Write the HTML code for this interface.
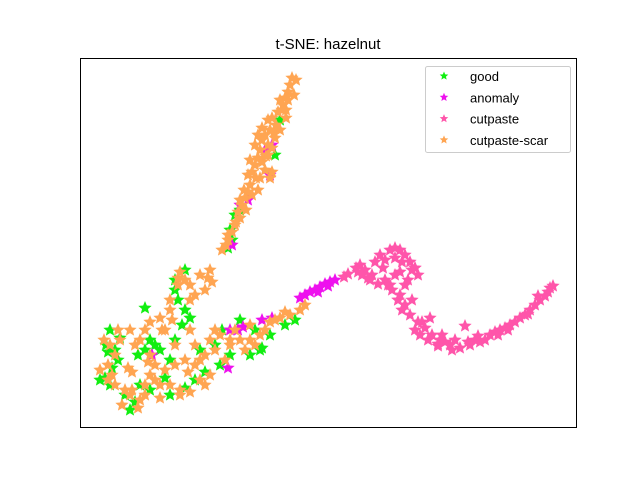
<!DOCTYPE html>
<html><head><meta charset="utf-8"><style>
body{margin:0;background:#fff;}
svg{display:block;font-family:"Liberation Sans","DejaVu Sans",sans-serif;}
</style></head><body>
<svg id="chart" width="640" height="480">
<rect x="0" y="0" width="640" height="480" fill="#fff"/>
<text x="328" y="49" text-anchor="middle" font-size="15" fill="#000">t-SNE: hazelnut</text>
<g id="marks"></g>
<rect x="80.5" y="58.5" width="496" height="369" fill="none" stroke="#000" stroke-width="1"/>
<g id="legend"></g>
</svg>
<script>
// t-SNE embedding coordinates (arbitrary units, y increases downward)
const categories = ["good", "anomaly", "cutpaste", "cutpaste-scar"];
const colors = ["#11ee11", "#ee11ee", "#ff55aa", "#ffa552"];
const goodX = [110,120,150,155,160,175,178,185,182,112,105,110,125,135,150,165,185,195,205,220,230,250,262,270,285,295,240,175,138,115,215,185,232,235,228,240,275,230,280,145,170,200,118,108,106,100,145,190,175,222,260,255,130,140,170];
const goodY = [330,338,340,345,350,290,300,310,325,368,378,385,395,402,390,378,388,380,372,365,355,355,348,335,325,320,320,340,355,350,345,270,240,215,248,210,155,230,120,308,360,350,360,352,345,380,350,318,280,330,350,330,410,385,395];
const anomalyX = [300,305,310,315,320,325,330,335,272,262,238,230,243,228,152,265,272,270,240,248,232,318,328];
const anomalyY = [298,295,292,290,287,284,282,280,318,320,330,330,327,368,355,150,145,175,205,200,245,292,286];
const cutpasteX = [344,348,360,365,372,380,390,400,405,410,412,418,408,400,395,385,392,400,405,410,418,425,432,440,450,460,470,480,490,500,510,520,530,540,548,553,465,430,405,375,383,420,445,455,485,515,525,535,395,358,368,415,438,475,495,505,545,412,398,388,356,362,370,378,385,395,402,415,390,398,402,415,428,438,452,468,478,498,508,528,538,550,442,422];
const cutpasteY = [277,274,265,270,275,255,250,250,255,262,270,275,280,272,275,280,290,295,305,315,322,328,335,340,345,348,345,342,335,330,325,318,310,300,292,286,326,318,285,262,268,335,342,340,340,322,315,305,258,272,278,268,344,340,332,328,296,300,300,285,268,275,280,284,260,248,262,268,285,300,310,330,340,346,350,342,336,335,330,314,296,288,335,322];
const scarX = [292,290,288,285,280,283,278,272,276,270,265,262,268,260,258,262,255,252,256,250,248,245,242,238,240,235,232,228,226,222,272,272,270,180,185,200,210,205,195,190,170,172,160,150,145,140,135,120,110,115,108,112,108,115,125,130,140,138,145,155,150,160,170,180,190,165,175,185,195,205,215,210,220,230,240,245,255,260,265,270,280,290,300,305,195,200,210,225,235,250,286,274,266,258,212,178,118,132,148,162,296,288,294,282,268,286,262,280,258,275,255,268,250,265,248,260,244,252,246,236,228,240,100,104,130,165,175,190,170,150,128,145,160,180,200,215,230,250,275,285,208,178,190,122,132,155,205,188];
const scarY = [78,85,92,98,100,105,112,118,125,130,135,140,145,150,158,162,165,172,178,185,192,198,205,212,218,225,232,240,245,250,148,172,178,272,280,275,270,290,295,300,310,320,318,322,330,340,345,340,345,355,365,375,380,385,390,395,400,408,395,380,375,385,385,390,392,370,365,360,365,355,350,340,335,345,340,350,345,335,330,322,318,315,310,305,345,380,375,360,330,325,110,132,156,190,282,285,330,372,362,330,80,100,95,110,120,118,128,130,135,138,145,155,160,170,175,178,190,195,210,222,235,200,370,340,330,330,345,330,300,355,368,385,398,395,360,330,340,340,320,312,278,278,285,405,390,365,385,372];
const seriesX = [goodX, anomalyX, cutpasteX, scarX];
const seriesY = [goodY, anomalyY, cutpasteY, scarY];

const xMin = 80, xMax = 576, yMin = 58, yMax = 427;
const px0 = 80, px1 = 576, py0 = 58, py1 = 427;
function xScale(v){ return px0 + (v - xMin) / (xMax - xMin) * (px1 - px0); }
function yScale(v){ return py0 + (v - yMin) / (yMax - yMin) * (py1 - py0); }

const NS = "http://www.w3.org/2000/svg";
function starPath(cx, cy, r){
  let d = "";
  for (let i = 0; i < 10; i++){
    const a = -Math.PI/2 + i*Math.PI/5;
    const rr = i % 2 ? r*0.45 : r;
    d += (i ? "L" : "M") + (cx + rr*Math.cos(a)).toFixed(2) + " " + (cy + rr*Math.sin(a)).toFixed(2);
  }
  return d + "Z";
}
const marks = document.getElementById("marks");
for (let s = 0; s < categories.length; s++){
  const g = document.createElementNS(NS, "g");
  
  
  const xs = seriesX[s], ys = seriesY[s];
  for (let i = 0; i < xs.length; i++){
    const p = document.createElementNS(NS, "path");
    p.setAttribute("d", starPath(xScale(xs[i]), yScale(ys[i]), 7));
    p.setAttribute("fill", colors[s]);
    
    
    g.appendChild(p);
  }
  marks.appendChild(g);
}
const legend = document.getElementById("legend");
const box = document.createElementNS(NS, "rect");
box.setAttribute("x", 425.5); box.setAttribute("y", 66.5);
box.setAttribute("width", 145); box.setAttribute("height", 86);
box.setAttribute("rx", 2); box.setAttribute("fill", "#fff");
box.setAttribute("fill-opacity", "0.8"); box.setAttribute("stroke", "#ccc");


legend.appendChild(box);
for (let s = 0; s < categories.length; s++){
  const y = 76 + s*21.3;
  const m = document.createElementNS(NS, "path");
  m.setAttribute("d", starPath(444, y, 4.5));
  m.setAttribute("fill", colors[s]);
  
  
  legend.appendChild(m);
  const t = document.createElementNS(NS, "text");
  t.setAttribute("x", 470); t.setAttribute("y", y + 5);
  t.setAttribute("font-size", "13"); t.setAttribute("fill", "#000");
  t.textContent = categories[s];
  
  
  legend.appendChild(t);
}
</script>
</body></html>
